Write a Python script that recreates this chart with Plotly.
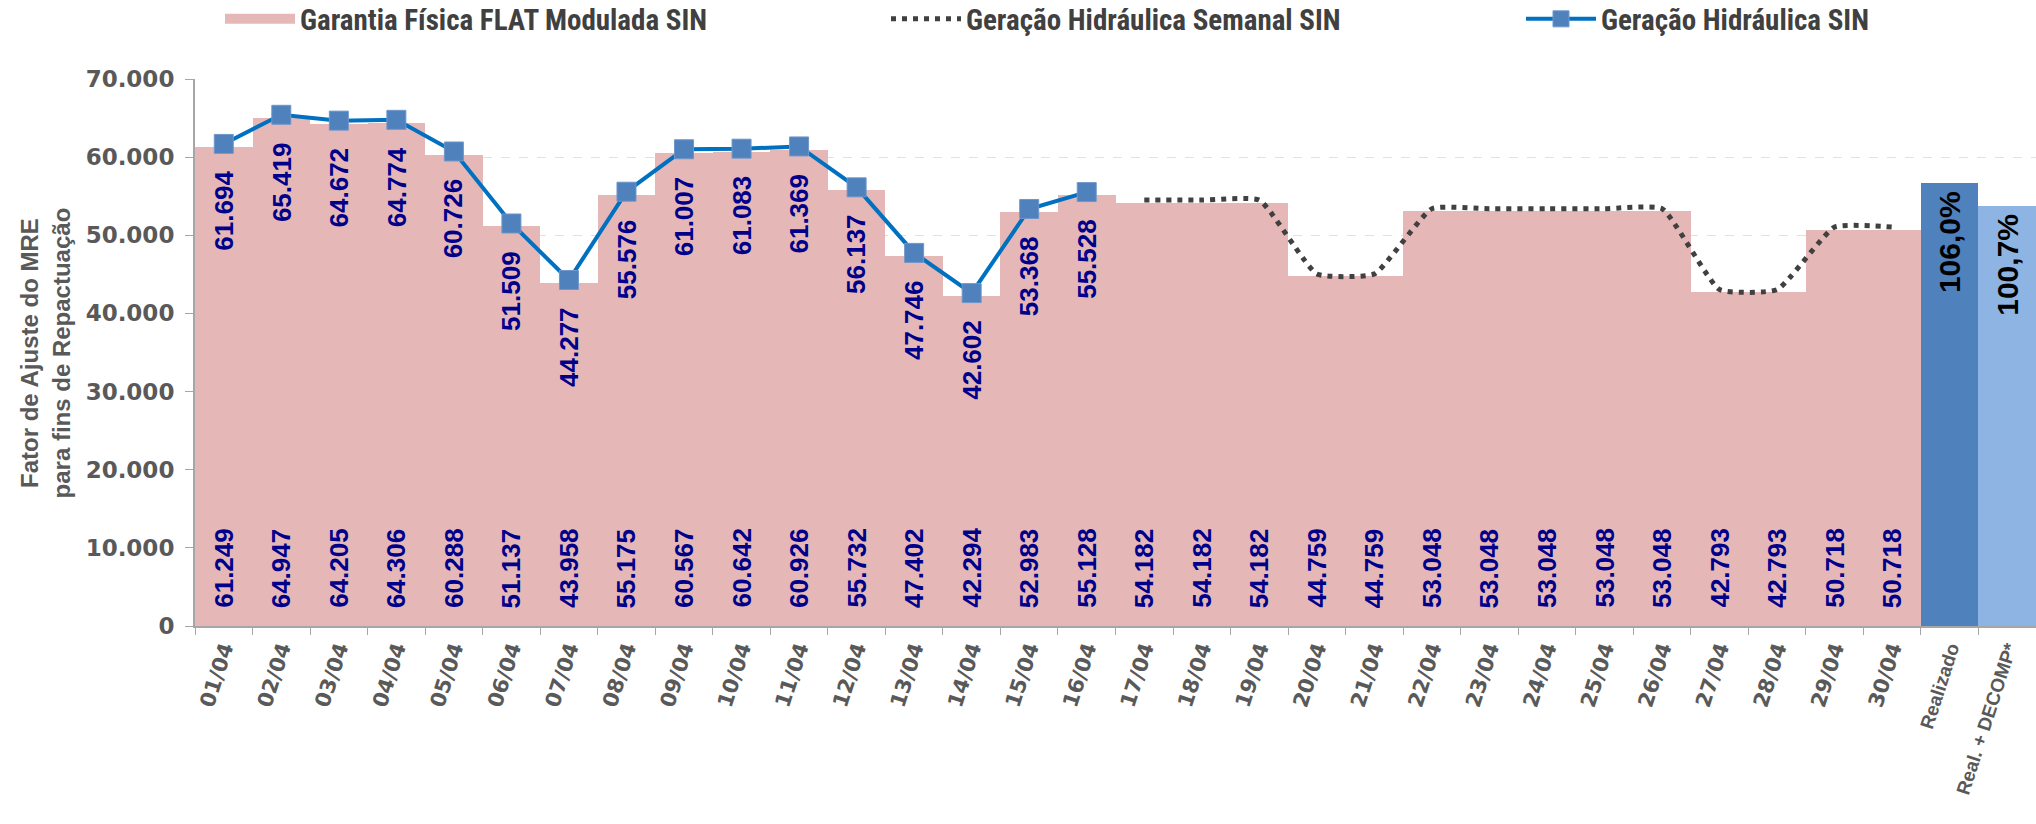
import plotly.graph_objects as go

# Daily categories (April) and the two summary columns
dias = ["01/04", "02/04", "03/04", "04/04", "05/04", "06/04", "07/04", "08/04",
        "09/04", "10/04", "11/04", "12/04", "13/04", "14/04", "15/04", "16/04",
        "17/04", "18/04", "19/04", "20/04", "21/04", "22/04", "23/04", "24/04",
        "25/04", "26/04", "27/04", "28/04", "29/04", "30/04"]
resumo = ["Realizado", "Real. + DECOMP*"]

# Garantia Física FLAT Modulada SIN (MWmed)
garantia_fisica = [61249, 64947, 64205, 64306, 60288, 51137, 43958, 55175,
                   60567, 60642, 60926, 55732, 47402, 42294, 52983, 55128,
                   54182, 54182, 54182, 44759, 44759, 53048, 53048, 53048,
                   53048, 53048, 42793, 42793, 50718, 50718]

# Geração Hidráulica SIN verificada (01/04 a 16/04)
geracao_hidr = [61694, 65419, 64672, 64774, 60726, 51509, 44277, 55576,
                61007, 61083, 61369, 56137, 47746, 42602, 53368, 55528]

# Geração Hidráulica Semanal SIN prevista (17/04 a 30/04)
dias_semanal = ["17/04", "18/04", "19/04", "20/04", "21/04", "22/04", "23/04",
                "24/04", "25/04", "26/04", "27/04", "28/04", "29/04", "30/04"]
geracao_semanal = [54500, 54500, 54500, 45060, 45060, 53400, 53400, 53400,
                   53400, 53400, 43050, 43050, 51050, 51050]

# Fator de ajuste do MRE (%)
fator_mre = [106.0, 100.7]
cores_fator = ["#4F81BD", "#8DB4E2"]

ROSA = "#E5B8B7"
AZUL_ESC = "#00008B"
CINZA = "#595959"

def fmt_milhar(v):
    return f"{v:,}".replace(",", ".")

def fmt_pct(v):
    return f"{v:.1f}".replace(".", ",") + "%"

fig = go.Figure()

fig.add_trace(go.Bar(
    x=dias, y=garantia_fisica, name="Garantia Física FLAT Modulada SIN",
    marker=dict(color=ROSA, line=dict(width=0)), showlegend=False,
))
# legend swatch for the pink bars (wide rectangle)
fig.add_trace(go.Scatter(
    x=[None], y=[None], name="Garantia Física FLAT Modulada SIN",
    mode="lines", line=dict(color=ROSA, width=16), legend="legend",
))

fig.add_trace(go.Scatter(
    x=dias_semanal, y=geracao_semanal, name="Geração Hidráulica Semanal SIN",
    mode="lines", line=dict(color="#404040", width=5, dash="5px,6px",
                            shape="spline", smoothing=0.45),
    legend="legend2",
))

fig.add_trace(go.Scatter(
    x=dias[:len(geracao_hidr)], y=geracao_hidr, name="Geração Hidráulica SIN",
    mode="lines+markers", line=dict(color="#0070C0", width=4),
    marker=dict(symbol="square", size=19, color="#4F81BD",
                line=dict(color="#6F97C9", width=1)),
    legend="legend3",
))

fig.add_trace(go.Bar(
    x=resumo, y=fator_mre, yaxis="y2", showlegend=False,
    marker=dict(color=cores_fator, line=dict(width=0)),
))

lbl_font = dict(family="Liberation Sans, Arial", size=26, color=AZUL_ESC, weight="bold")
anns = []
# value labels at the base of the pink bars
for d, v in zip(dias, garantia_fisica):
    anns.append(dict(x=d, y=0, xref="x", yref="y", text=fmt_milhar(v),
                     textangle=-90, yanchor="bottom", yshift=16, showarrow=False,
                     font=lbl_font))
# value labels under the hydro generation markers
for d, v in zip(dias, geracao_hidr):
    anns.append(dict(x=d, y=v, xref="x", yref="y", text=fmt_milhar(v),
                     textangle=-90, yanchor="top", yshift=-25, showarrow=False,
                     font=lbl_font))
# MRE factor labels
for d, v in zip(resumo, fator_mre):
    anns.append(dict(x=d, y=v, xref="x", yref="y2", text=fmt_pct(v),
                     textangle=-90, yanchor="top", yshift=-6, showarrow=False,
                     font=dict(family="Liberation Sans, Arial", size=30,
                               color="#000000", weight="bold")))
# y-axis title
anns.append(dict(x=-0.0815, y=0.5, xref="paper", yref="paper",
                 text="Fator de Ajuste do MRE<br>para fins de Repactuação",
                 textangle=-90, showarrow=False, xanchor="center", yanchor="middle",
                 font=dict(family="Liberation Sans, Arial", size=24,
                           color=CINZA, weight="bold")))

ticktext = dias + [
    '<span style="font-family:Liberation Sans, Arial;font-size:19px">Realizado</span>',
    '<span style="font-family:Liberation Sans, Arial;font-size:19px">Real. + DECOMP*</span>',
]

legend_font = dict(family="Liberation Sans Narrow, Roboto Condensed, Liberation Sans",
                   size=29, color="#404040", weight="bold")
leg_common = dict(orientation="h", yref="container", yanchor="middle", y=1 - 19 / 824,
                  xanchor="left", font=legend_font, bgcolor="rgba(0,0,0,0)",
                  itemwidth=70)

fig.update_layout(
    width=2036, height=824,
    margin=dict(l=195, r=0, t=79, b=198, autoexpand=False),
    paper_bgcolor="white", plot_bgcolor="white",
    barmode="overlay", bargap=0,
    separators=",.",
    annotations=anns,
    xaxis=dict(
        type="category", categoryorder="array", categoryarray=dias + resumo,
        tickvals=dias + resumo, ticktext=ticktext,
        tickangle=-72, tickson="boundaries", ticks="outside", ticklen=7,
        tickcolor="#A6A6A6", showline=True, linecolor="#A6A6A6", linewidth=2,
        showgrid=False,
        tickfont=dict(family="DejaVu Sans", size=21, color=CINZA, weight="bold"),
        range=[-0.5, len(dias) + len(resumo) - 0.5],
    ),
    yaxis=dict(
        range=[0, 70000], tickvals=[0, 10000, 20000, 30000, 40000, 50000, 60000, 70000],
        tickformat=",d", ticks="outside", ticklen=8, tickcolor="#A6A6A6",
        showline=True, linecolor="#A6A6A6", linewidth=2,
        showgrid=True, gridcolor="#DDE3E3", griddash="dash", gridwidth=1,
        zeroline=False,
        tickfont=dict(family="DejaVu Sans", size=23, color=CINZA, weight="bold"),
        ticklabelstandoff=6,
    ),
    yaxis2=dict(range=[0, 131], overlaying="y", visible=False),
    legend=dict(leg_common, x=(220 - 195) / 1841),
    legend2=dict(leg_common, x=(886 - 195) / 1841),
    legend3=dict(leg_common, x=(1521 - 195) / 1841),
)

fig.write_html("out.html")
